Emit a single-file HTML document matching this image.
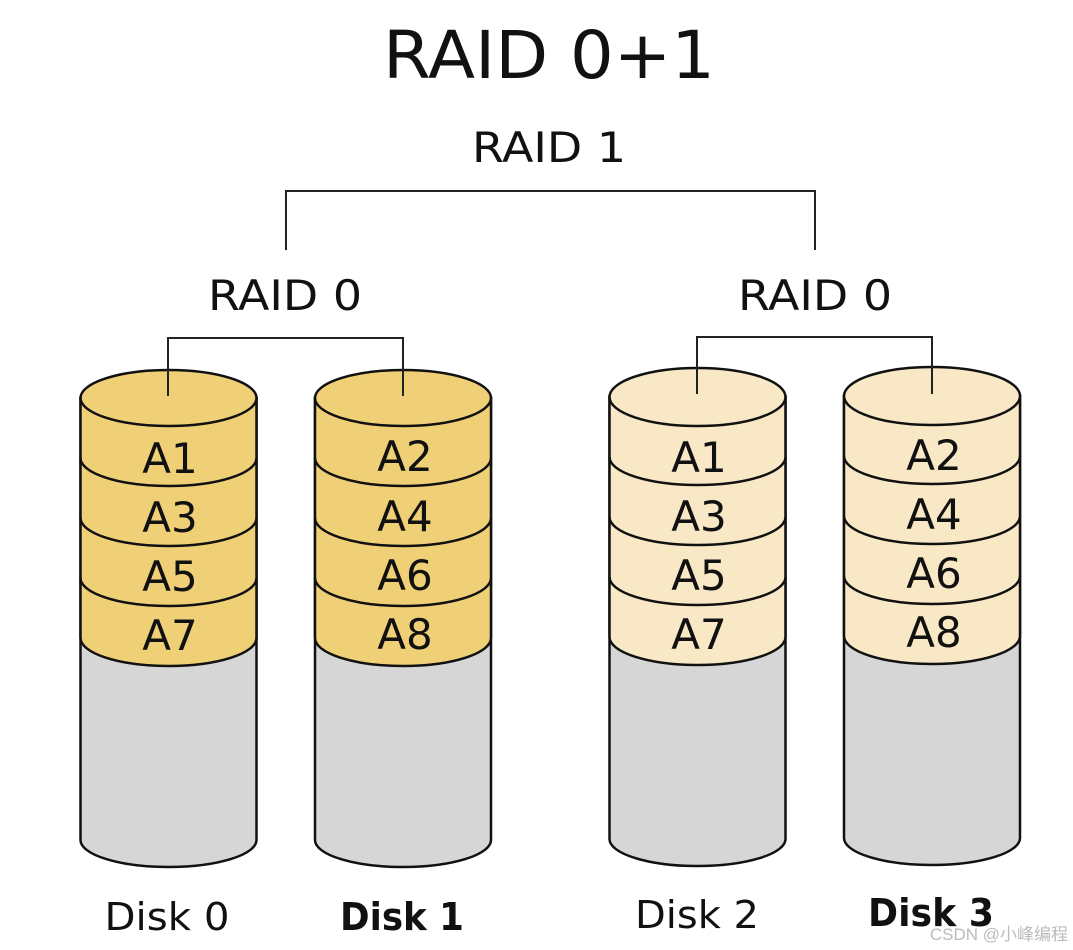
<!DOCTYPE html>
<html><head><style>body{margin:0;background:#fff}svg{display:block}</style></head><body>
<svg width="1073" height="950" viewBox="0 0 1073 950" xmlns="http://www.w3.org/2000/svg" font-family="DejaVu Sans, Liberation Sans, sans-serif">
<text x="549" y="78" font-size="66" text-anchor="middle" fill="#111" textLength="332" lengthAdjust="spacingAndGlyphs">RAID 0+1</text>
<text x="549" y="162" font-size="42" text-anchor="middle" fill="#111" textLength="154" lengthAdjust="spacingAndGlyphs">RAID 1</text>
<polyline points="286,250 286,191 815,191 815,250" fill="none" stroke="#222" stroke-width="2"/>
<text x="285" y="310" font-size="42" text-anchor="middle" fill="#111" textLength="154" lengthAdjust="spacingAndGlyphs">RAID 0</text>
<text x="815" y="310" font-size="42" text-anchor="middle" fill="#111" textLength="154" lengthAdjust="spacingAndGlyphs">RAID 0</text>

<g stroke="#111" stroke-width="2.5">
<g transform="translate(168.5,0)">
<path d="M-88,398 L-88,840 A88,27 0 0 0 88,840 L88,398 Z" fill="#d6d6d6"/>
<path d="M-88,398 L-88,638 A88,28 0 0 0 88,638 L88,398 Z" fill="#efd077"/>
<path d="M-88,458 A88,28 0 0 0 88,458 M-88,518 A88,28 0 0 0 88,518 M-88,578 A88,28 0 0 0 88,578" fill="none"/>
<ellipse cx="0" cy="398" rx="88" ry="28" fill="#efd077"/>
</g>
<g transform="translate(403,0)">
<path d="M-88,398 L-88,840 A88,27 0 0 0 88,840 L88,398 Z" fill="#d6d6d6"/>
<path d="M-88,398 L-88,638 A88,28 0 0 0 88,638 L88,398 Z" fill="#efd077"/>
<path d="M-88,458 A88,28 0 0 0 88,458 M-88,518 A88,28 0 0 0 88,518 M-88,578 A88,28 0 0 0 88,578" fill="none"/>
<ellipse cx="0" cy="398" rx="88" ry="28" fill="#efd077"/>
</g>
<g transform="translate(697.5,-1)">
<path d="M-88,398 L-88,840 A88,27 0 0 0 88,840 L88,398 Z" fill="#d6d6d6"/>
<path d="M-88,398 L-88,638 A88,28 0 0 0 88,638 L88,398 Z" fill="#f8e8c6"/>
<path d="M-88,458 A88,28 0 0 0 88,458 M-88,518 A88,28 0 0 0 88,518 M-88,578 A88,28 0 0 0 88,578" fill="none"/>
<ellipse cx="0" cy="398" rx="88" ry="29" fill="#f8e8c6"/>
</g>
<g transform="translate(932,-2)">
<path d="M-88,398 L-88,840 A88,27 0 0 0 88,840 L88,398 Z" fill="#d6d6d6"/>
<path d="M-88,398 L-88,638 A88,28 0 0 0 88,638 L88,398 Z" fill="#f8e8c6"/>
<path d="M-88,458 A88,28 0 0 0 88,458 M-88,518 A88,28 0 0 0 88,518 M-88,578 A88,28 0 0 0 88,578" fill="none"/>
<ellipse cx="0" cy="398" rx="88" ry="29" fill="#f8e8c6"/>
</g>
</g>
<g fill="none" stroke="#222" stroke-width="2">
<polyline points="168,396 168,338 403,338 403,396"/>
<polyline points="697,394 697,337 932,337 932,394"/>
</g>
<g font-size="42" text-anchor="middle" fill="#111">
<text x="170" y="473">A1</text><text x="170" y="532">A3</text><text x="170" y="591">A5</text><text x="170" y="650">A7</text>
<text x="405" y="471">A2</text><text x="405" y="531">A4</text><text x="405" y="590">A6</text><text x="405" y="649">A8</text>
<text x="699" y="472">A1</text><text x="699" y="531">A3</text><text x="699" y="590">A5</text><text x="699" y="649">A7</text>
<text x="934" y="470">A2</text><text x="934" y="529">A4</text><text x="934" y="588">A6</text><text x="934" y="647">A8</text>
</g>
<g font-size="38" text-anchor="middle" fill="#111">
<text x="167" y="930" textLength="125" lengthAdjust="spacingAndGlyphs">Disk 0</text>
<text x="402" y="930" font-weight="bold" textLength="124" lengthAdjust="spacingAndGlyphs">Disk 1</text>
<text x="697" y="928" textLength="124" lengthAdjust="spacingAndGlyphs">Disk 2</text>
<text x="931" y="926" font-weight="bold" textLength="126" lengthAdjust="spacingAndGlyphs">Disk 3</text>
</g>
<text x="1068" y="940" font-size="17" text-anchor="end" fill="#bbb" font-family="Liberation Sans, Noto Sans CJK SC, sans-serif">CSDN @小峰编程</text>
</svg>
</body></html>
